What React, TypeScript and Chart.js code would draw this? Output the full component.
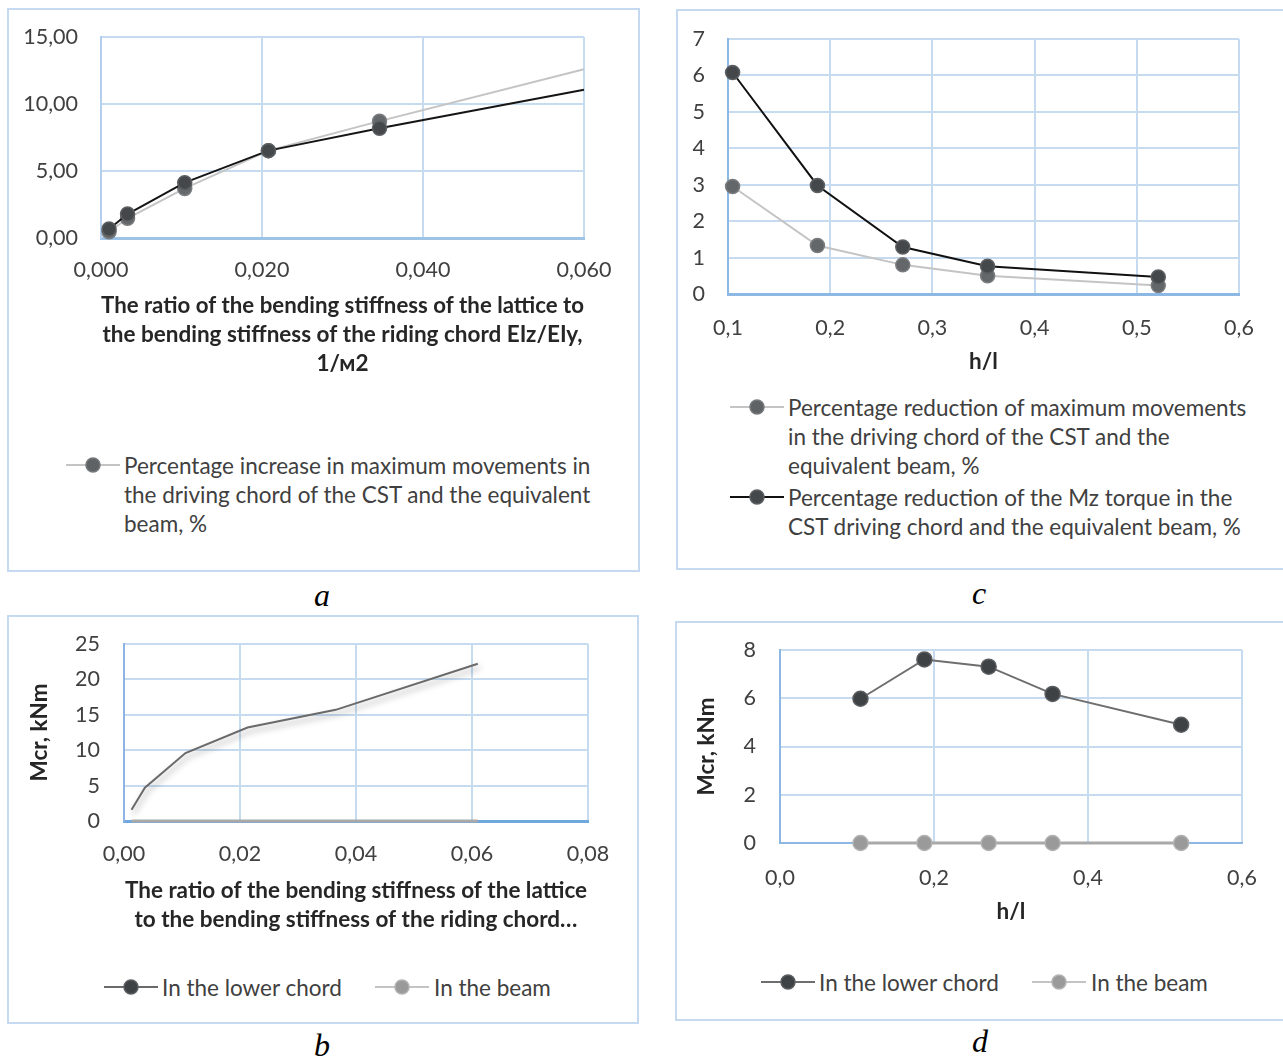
import React, { useEffect, useRef } from "react";
import { Chart, registerables } from "chart.js";
Chart.register(...registerables);

const FONT = "Lato";
const TEXT = "#404040";
const TITLE = "#262626";
const GRID = "#c6dbf0";
const TICK_SIZE = 21.5;
const TEXT_SIZE = 22.5;

// ---------- Panel a ----------
const aRatio = [0.001, 0.0033, 0.0104, 0.0208, 0.0346, 0.06];
const aIncrease = [0.47, 1.47, 3.7, 6.52, 8.72, 12.6];
const aIncreaseTrend = [0.67, 1.79, 4.13, 6.52, 8.19, 11.07];
const aXTicks = [0, 0.02, 0.04, 0.06];
const aYTicks = [0, 5, 10, 15];
const aXTitle = [
  "The ratio of the bending stiffness of the lattice to",
  "the bending stiffness of the riding chord EIz/EIy,",
  "1/м2",
];
const aLegend = [
  "Percentage increase in maximum movements in",
  "the driving chord of the CST and the equivalent",
  "beam, %",
];

// ---------- Panel c ----------
const cHL = [0.1045, 0.1875, 0.271, 0.354, 0.521];
const cMovements = [2.95, 1.33, 0.8, 0.5, 0.23];
const cTorque = [6.08, 2.98, 1.29, 0.76, 0.47];
const cXTicks = [0.1, 0.2, 0.3, 0.4, 0.5, 0.6];
const cYTicks = [0, 1, 2, 3, 4, 5, 6, 7];
const cXTitle = ["h/l"];
const cLegendMovements = [
  "Percentage reduction of maximum movements",
  "in the driving chord of the CST and the",
  "equivalent beam, %",
];
const cLegendTorque = [
  "Percentage reduction of the Mz torque in the",
  "CST driving chord and the equivalent beam, %",
];

// ---------- Panel b ----------
const bRatio = [0.0013, 0.0036, 0.0106, 0.0213, 0.0365, 0.061];
const bLowerChord = [1.6, 4.7, 9.6, 13.2, 15.7, 22.2];
const bBeam = [0, 0, 0, 0, 0, 0];
const bXTicks = [0, 0.02, 0.04, 0.06, 0.08];
const bYTicks = [0, 5, 10, 15, 20, 25];
const bXTitle = [
  "The ratio of the bending stiffness of the lattice",
  "to the bending stiffness of the riding chord…",
];
const bYTitle = "Mcr, kNm";

// ---------- Panel d ----------
const dHL = [0.1045, 0.1875, 0.271, 0.354, 0.521];
const dLowerChord = [5.98, 7.61, 7.31, 6.18, 4.9];
const dBeam = [0, 0, 0, 0, 0];
const dXTicks = [0, 0.2, 0.4, 0.6];
const dYTicks = [0, 2, 4, 6, 8];
const dXTitle = ["h/l"];
const dYTitle = "Mcr, kNm";

const seriesLowerChord = "In the lower chord";
const seriesBeam = "In the beam";

const pts = (xs: number[], ys: number[]) => xs.map((x, i) => ({ x, y: ys[i] }));

type AxisSpec = {
  ticks: number[];
  digits: number;
  tickPad: number;
  size: number;
  border: { color: string; width: number };
  title?: string[] | string;
  titlePad?: number;
};

function axis(spec: AxisSpec, horizontal: boolean) {
  const tp = spec.titlePad ?? 0;
  return {
    type: "linear",
    position: horizontal ? "bottom" : "left",
    min: spec.ticks[0],
    max: spec.ticks[spec.ticks.length - 1],
    afterBuildTicks: (s: any) => {
      s.ticks = spec.ticks.map((v) => ({ value: v }));
    },
    afterFit: (s: any) => {
      if (horizontal) s.height = spec.size;
      else s.width = spec.size;
      s.paddingTop = 0;
      s.paddingBottom = 0;
      s.paddingLeft = 0;
      s.paddingRight = 0;
    },
    ticks: {
      color: TEXT,
      font: { family: FONT, size: TICK_SIZE },
      padding: spec.tickPad,
      maxRotation: 0,
      autoSkip: false,
      callback: (v: any) => Number(v).toFixed(spec.digits).replace(".", ","),
    },
    grid: { color: GRID, lineWidth: 2, drawTicks: false },
    border: { color: spec.border.color, width: spec.border.width },
    title: spec.title
      ? {
          display: true,
          text: spec.title,
          color: TITLE,
          font: { family: FONT, size: TEXT_SIZE, weight: "bold", lineHeight: 29 / TEXT_SIZE },
          padding: { top: tp, bottom: tp },
        }
      : { display: false },
  };
}

const noLastMarker = (r: number) => (ctx: any) =>
  ctx.dataIndex === ctx.dataset.data.length - 1 ? 0 : r;

const shadowPlugin = {
  id: "lineShadow",
  beforeDatasetDraw(chart: any, args: any) {
    const ds = chart.data.datasets[args.index];
    if (!ds.shadow) return;
    const ctx = chart.ctx;
    ctx.save();
    ctx.shadowColor = "rgba(0,0,0,0.35)";
    ctx.shadowBlur = 6;
    ctx.shadowOffsetX = 2;
    ctx.shadowOffsetY = 4;
  },
  afterDatasetDraw(chart: any, args: any) {
    const ds = chart.data.datasets[args.index];
    if (!ds.shadow) return;
    chart.ctx.restore();
  },
};

function baseOptions(pad: { top: number; right: number }, scales: any) {
  return {
    responsive: false,
    animation: false,
    devicePixelRatio: 1,
    layout: { padding: { top: pad.top, right: pad.right, bottom: 0, left: 0 } },
    plugins: { legend: { display: false }, tooltip: { enabled: false }, title: { display: false } },
    elements: { line: { tension: 0 } },
    scales,
  };
}

const configA = () => ({
  type: "line",
  data: {
    datasets: [
      {
        label: "Trend",
        data: pts(aRatio, aIncreaseTrend),
        borderColor: "#151515",
        borderWidth: 2,
        pointRadius: noLastMarker(7),
        pointBackgroundColor: "#45484b",
        pointBorderColor: "#5c5f62",
        pointBorderWidth: 1.5,
        clip: false,
      },
      {
        label: aLegend.join(" "),
        data: pts(aRatio, aIncrease),
        borderColor: "#c4c4c4",
        borderWidth: 2,
        pointRadius: noLastMarker(7),
        pointBackgroundColor: "#66696c",
        pointBorderColor: "#7a7d80",
        pointBorderWidth: 1.5,
        clip: false,
      },
    ],
  },
  options: baseOptions(
    { top: 27, right: 54 },
    {
      x: axis(
        { ticks: aXTicks, digits: 3, tickPad: 19, size: 152, border: { color: "#9dc3e6", width: 3 }, title: aXTitle, titlePad: 11.5 },
        true
      ),
      y: axis({ ticks: aYTicks, digits: 2, tickPad: 23, size: 92, border: { color: "#b4cfee", width: 2 } }, false),
    }
  ),
});

const configC = () => ({
  type: "line",
  data: {
    datasets: [
      {
        label: cLegendTorque.join(" "),
        data: pts(cHL, cTorque),
        borderColor: "#111111",
        borderWidth: 2,
        pointRadius: 7,
        pointBackgroundColor: "#45484b",
        pointBorderColor: "#5c5f62",
        pointBorderWidth: 1.5,
        clip: false,
      },
      {
        label: cLegendMovements.join(" "),
        data: pts(cHL, cMovements),
        borderColor: "#c4c4c4",
        borderWidth: 2,
        pointRadius: 7,
        pointBackgroundColor: "#646769",
        pointBorderColor: "#7a7d80",
        pointBorderWidth: 1.5,
        clip: false,
      },
    ],
  },
  options: baseOptions(
    { top: 27, right: 44 },
    {
      x: axis(
        { ticks: cXTicks, digits: 1, tickPad: 21, size: 98, border: { color: "#8db8e4", width: 3 }, title: cXTitle, titlePad: 15.5 },
        true
      ),
      y: axis({ ticks: cYTicks, digits: 0, tickPad: 23, size: 50, border: { color: "#8db8e4", width: 2 } }, false),
    }
  ),
});

const configB = () => ({
  type: "line",
  data: {
    datasets: [
      {
        label: seriesLowerChord,
        data: pts(bRatio, bLowerChord),
        borderColor: "#6a6a6a",
        borderWidth: 2,
        pointRadius: 0,
        shadow: true,
        clip: false,
      },
      {
        label: seriesBeam,
        data: pts(bRatio, bBeam),
        borderColor: "#a9a9a9",
        borderWidth: 3,
        pointRadius: 0,
        clip: false,
      },
    ],
  },
  options: baseOptions(
    { top: 27, right: 50 },
    {
      x: axis(
        { ticks: bXTicks, digits: 2, tickPad: 20, size: 116, border: { color: "#6fa8dc", width: 3 }, title: bXTitle, titlePad: 2.5 },
        true
      ),
      y: axis(
        { ticks: bYTicks, digits: 0, tickPad: 24, size: 115, border: { color: "#8db4e2", width: 2 }, title: bYTitle, titlePad: 16.5 },
        false
      ),
    }
  ),
  plugins: [shadowPlugin],
});

const configD = () => ({
  type: "line",
  data: {
    datasets: [
      {
        label: seriesLowerChord,
        data: pts(dHL, dLowerChord),
        borderColor: "#6e6e6e",
        borderWidth: 2,
        pointRadius: 7.5,
        pointBackgroundColor: "#3f4245",
        pointBorderColor: "#5a5d60",
        pointBorderWidth: 1.5,
        clip: false,
      },
      {
        label: seriesBeam,
        data: pts(dHL, dBeam),
        borderColor: "#a9a9a9",
        borderWidth: 3,
        pointRadius: 7.5,
        pointBackgroundColor: "#9a9a9a",
        pointBorderColor: "#b2b2b2",
        pointBorderWidth: 1.5,
        clip: false,
      },
    ],
  },
  options: baseOptions(
    { top: 27, right: 41 },
    {
      x: axis(
        { ticks: dXTicks, digits: 1, tickPad: 22, size: 90, border: { color: "#8db8e4", width: 2 }, title: dXTitle, titlePad: 6.5 },
        true
      ),
      y: axis(
        { ticks: dYTicks, digits: 0, tickPad: 24, size: 103, border: { color: "#8db8e4", width: 2 }, title: dYTitle, titlePad: 15.5 },
        false
      ),
    }
  ),
});

function ChartCanvas(props: { config: () => any; left: number; top: number; width: number; height: number }) {
  const ref = useRef<HTMLCanvasElement>(null);
  useEffect(() => {
    const chart = new Chart(ref.current as HTMLCanvasElement, props.config() as any);
    return () => chart.destroy();
  }, []);
  return (
    <canvas
      ref={ref}
      width={props.width}
      height={props.height}
      style={{ position: "absolute", left: props.left, top: props.top, width: props.width, height: props.height, display: "block" }}
    />
  );
}

function Panel(props: { left: number; top: number; width: number; height: number }) {
  return (
    <div
      style={{
        position: "absolute",
        left: props.left,
        top: props.top,
        width: props.width,
        height: props.height,
        border: "2px solid #c5daf0",
        boxSizing: "border-box",
      }}
    />
  );
}

function LegendItem(props: {
  left: number;
  cy: number;
  lineColor: string;
  lineWidth: number;
  fill: string;
  stroke: string;
  lines: string[];
  textLeft: number;
}) {
  const iconW = 54;
  return (
    <>
      <svg
        width={iconW}
        height={18}
        style={{ position: "absolute", left: props.left, top: props.cy - 9 }}
      >
        <line x1={0} y1={9} x2={iconW} y2={9} stroke={props.lineColor} strokeWidth={props.lineWidth} />
        <circle cx={iconW / 2} cy={9} r={7} fill={props.fill} stroke={props.stroke} strokeWidth={1.5} />
      </svg>
      <div
        style={{
          position: "absolute",
          left: props.textLeft,
          top: props.cy - 14.5,
          font: `${TEXT_SIZE}px ${FONT}`,
          lineHeight: "29px",
          color: TEXT,
          whiteSpace: "nowrap",
        }}
      >
        {props.lines.map((l, i) => (
          <div key={i}>{l}</div>
        ))}
      </div>
    </>
  );
}

function Caption(props: { cx: number; cy: number; text: string }) {
  return (
    <div
      style={{
        position: "absolute",
        left: props.cx - 30,
        top: props.cy - 20,
        width: 60,
        height: 40,
        lineHeight: "40px",
        textAlign: "center",
        font: "italic 32px 'Liberation Serif'",
        color: "#000",
      }}
    >
      {props.text}
    </div>
  );
}

export default function App() {
  return (
    <div
      style={{
        position: "absolute",
        left: 0,
        top: 0,
        width: 1283,
        height: 1063,
        overflow: "hidden",
        background: "#ffffff",
      }}
    >
      <Panel left={7} top={8} width={633} height={564} />
      <Panel left={676} top={9} width={620} height={561} />
      <Panel left={7} top={615} width={632} height={409} />
      <Panel left={675} top={621} width={620} height={400} />

      <ChartCanvas config={configA} left={9} top={10} width={629} height={380} />
      <ChartCanvas config={configC} left={678} top={12} width={605} height={380} />
      <ChartCanvas config={configB} left={9} top={617} width={629} height={320} />
      <ChartCanvas config={configD} left={677} top={623} width={606} height={310} />

      <LegendItem left={66} cy={465} lineColor="#c4c4c4" lineWidth={2} fill="#5f6265" stroke="#76797c" lines={aLegend} textLeft={124} />

      <LegendItem left={730} cy={407} lineColor="#c4c4c4" lineWidth={2} fill="#5f6265" stroke="#76797c" lines={cLegendMovements} textLeft={788} />
      <LegendItem left={730} cy={497} lineColor="#111111" lineWidth={2} fill="#45484b" stroke="#5c5f62" lines={cLegendTorque} textLeft={788} />

      <LegendItem left={104} cy={987} lineColor="#6a6a6a" lineWidth={2} fill="#3f4245" stroke="#5a5d60" lines={[seriesLowerChord]} textLeft={162} />
      <LegendItem left={375} cy={987} lineColor="#c4c4c4" lineWidth={2} fill="#9a9a9a" stroke="#b2b2b2" lines={[seriesBeam]} textLeft={434} />

      <LegendItem left={761} cy={982} lineColor="#6e6e6e" lineWidth={2} fill="#3f4245" stroke="#5a5d60" lines={[seriesLowerChord]} textLeft={819} />
      <LegendItem left={1032} cy={982} lineColor="#c4c4c4" lineWidth={2} fill="#9a9a9a" stroke="#b2b2b2" lines={[seriesBeam]} textLeft={1091} />

      <Caption cx={322} cy={597} text="a" />
      <Caption cx={979} cy={595} text="c" />
      <Caption cx={322} cy={1047} text="b" />
      <Caption cx={980} cy={1043} text="d" />
    </div>
  );
}
